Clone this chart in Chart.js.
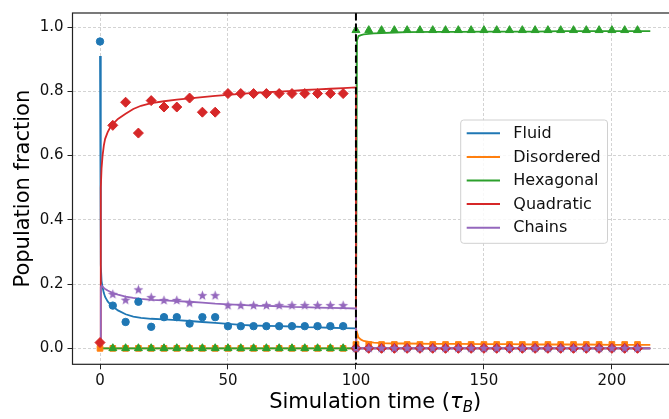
<!DOCTYPE html>
<html>
<head>
<meta charset="utf-8">
<title>Population fraction</title>
<script src="https://cdn.jsdelivr.net/npm/chart.js"></script>
<style>
  html, body { margin: 0; padding: 0; overflow: hidden; background: #fff; }
  canvas { display: block; }
</style>
</head>
<body>
<canvas id="popChart" width="690" height="419"></canvas>
<script>
    var phases = ['Fluid', 'Disordered', 'Hexagonal', 'Quadratic', 'Chains'];
    var phaseColors = ['#1f77b4', '#ff7f0e', '#2ca02c', '#d62728', '#9467bd'];

    // sampled snapshots (every 5 tau_B)
    var sampleTimes = [0, 5, 10, 15, 20, 25, 30, 35, 40, 45, 50, 55, 60, 65, 70, 75, 80, 85, 90, 95,
        100, 105, 110, 115, 120, 125, 130, 135, 140, 145, 150, 155, 160, 165, 170, 175, 180, 185, 190, 195, 200, 205, 210];
    var fluidSamples = [0.955, 0.133, 0.082, 0.145, 0.067, 0.097, 0.097, 0.077, 0.097, 0.097,
        0.069, 0.069, 0.069, 0.069, 0.069, 0.069, 0.069, 0.069, 0.069, 0.069,
        0, 0, 0, 0, 0, 0, 0, 0, 0, 0, 0, 0, 0, 0, 0, 0, 0, 0, 0, 0, 0, 0, 0];
    var disorderedSamples = [0, 0, 0, 0, 0, 0, 0, 0, 0, 0, 0, 0, 0, 0, 0, 0, 0, 0, 0, 0,
        0.012, 0.012, 0.012, 0.012, 0.012, 0.012, 0.012, 0.012, 0.012, 0.012, 0.012, 0.012,
        0.012, 0.012, 0.012, 0.012, 0.012, 0.012, 0.012, 0.012, 0.012, 0.012, 0.012];
    var hexagonalSamples = [null, 0, 0, 0, 0, 0, 0, 0, 0, 0, 0, 0, 0, 0, 0, 0, 0, 0, 0, 0,
        0.99, 0.99, 0.99, 0.99, 0.99, 0.99, 0.99, 0.99, 0.99, 0.99, 0.99, 0.99,
        0.99, 0.99, 0.99, 0.99, 0.99, 0.99, 0.99, 0.99, 0.99, 0.99, 0.99];
    var quadraticSamples = [0.018, 0.694, 0.766, 0.670, 0.771, 0.751, 0.751, 0.779, 0.735, 0.735,
        0.793, 0.793, 0.793, 0.793, 0.793, 0.793, 0.793, 0.793, 0.793, 0.793,
        0, 0, 0, 0, 0, 0, 0, 0, 0, 0, 0, 0, 0, 0, 0, 0, 0, 0, 0, 0, 0, 0, 0];
    var chainsSamples = [null, 0.168, 0.150, 0.182, 0.158, 0.149, 0.149, 0.141, 0.164, 0.164,
        0.133, 0.133, 0.133, 0.133, 0.133, 0.133, 0.133, 0.133, 0.133, 0.133,
        0, 0, 0, 0, 0, 0, 0, 0, 0, 0, 0, 0, 0, 0, 0, 0, 0, 0, 0, 0, 0, 0, 0];

    // continuous simulation output
    var curveTimes = [0, 0.3, 0.6, 1, 1.5, 2, 3, 4, 5, 7, 10, 13, 16, 20, 25, 30, 35, 40, 45, 50,
        55, 60, 65, 70, 75, 80, 85, 90, 95, 100, 100, 100.4, 101, 102, 103, 105, 107, 110, 115, 120,
        130, 140, 150, 160, 170, 180, 190, 200, 210, 215];
    var fluidCurve = [0.91, 0.26, 0.21, 0.19, 0.172, 0.16, 0.146, 0.137, 0.13, 0.118, 0.106, 0.099, 0.095, 0.092, 0.09, 0.088, 0.085, 0.082, 0.079, 0.076,
        0.073, 0.071, 0.07, 0.069, 0.068, 0.066, 0.065, 0.064, 0.063, 0.062, 0, 0, 0, 0, 0, 0, 0, 0, 0, 0,
        0, 0, 0, 0, 0, 0, 0, 0, 0, 0];
    var disorderedCurve = [0, 0, 0, 0, 0, 0, 0, 0, 0, 0, 0, 0, 0, 0, 0, 0, 0, 0, 0, 0,
        0, 0, 0, 0, 0, 0, 0, 0, 0, 0, 0, 0.05, 0.034, 0.027, 0.023, 0.02, 0.018, 0.016, 0.015, 0.015,
        0.014, 0.014, 0.013, 0.013, 0.012, 0.012, 0.012, 0.011, 0.011, 0.011];
    var hexagonalCurve = [0, 0, 0, 0, 0, 0, 0, 0, 0, 0, 0, 0, 0, 0, 0, 0, 0, 0, 0, 0,
        0, 0, 0, 0, 0, 0, 0, 0, 0, 0, 0, 0.958, 0.972, 0.975, 0.977, 0.979, 0.98, 0.981, 0.983, 0.984,
        0.985, 0.985, 0.986, 0.986, 0.986, 0.987, 0.987, 0.987, 0.987, 0.987];
    var quadraticCurve = [0.018, 0.5, 0.56, 0.6, 0.632, 0.652, 0.673, 0.688, 0.698, 0.714, 0.73, 0.745, 0.755, 0.763, 0.769, 0.774, 0.778, 0.782, 0.786, 0.789,
        0.792, 0.795, 0.797, 0.799, 0.801, 0.804, 0.806, 0.808, 0.81, 0.812, 0, 0, 0, 0, 0, 0, 0, 0, 0, 0,
        0, 0, 0, 0, 0, 0, 0, 0, 0, 0];
    var chainsCurve = [0.02, 0.19, 0.195, 0.192, 0.188, 0.185, 0.18, 0.176, 0.172, 0.167, 0.161, 0.157, 0.154, 0.151, 0.149, 0.147, 0.145, 0.142, 0.139, 0.137,
        0.135, 0.133, 0.132, 0.131, 0.129, 0.128, 0.127, 0.126, 0.125, 0.124, 0, 0, 0, 0, 0, 0, 0, 0, 0, 0,
        0, 0, 0, 0, 0, 0, 0, 0, 0, 0];

    var xTicks = [0, 50, 100, 150, 200];
    var yTicks = [0, 0.2, 0.4, 0.6, 0.8, 1.0];
    var switchTime = 100;

    var FONT = '"DejaVu Sans"';

    // filled five-point star, like matplotlib's '*'
    function makeStar(color, r) {
        var c = document.createElement('canvas');
        var size = Math.ceil(r * 2 + 2);
        c.width = size;
        c.height = size;
        var g = c.getContext('2d');
        g.fillStyle = color;
        g.beginPath();
        for (var k = 0; k < 10; k++) {
            var rr = k % 2 === 0 ? r : r * 0.42;
            var ang = -Math.PI / 2 + k * Math.PI / 5;
            g.lineTo(size / 2 + rr * Math.cos(ang), size / 2 + rr * Math.sin(ang));
        }
        g.closePath();
        g.fill();
        return c;
    }

    var markerStyles = ['circle', 'rect', 'triangle', 'rectRot', makeStar(phaseColors[4], 5.2)];
    var markerSizes = [3.7, 4, 4.6, 5, 5];

    function pairs(xs, ys) {
        return xs.map(function (x, i) { return { x: x, y: ys[i] }; });
    }

    var curves = [fluidCurve, disorderedCurve, hexagonalCurve, quadraticCurve, chainsCurve];
    var samples = [fluidSamples, disorderedSamples, hexagonalSamples, quadraticSamples, chainsSamples];

    var datasets = [];
    phases.forEach(function (name, i) {
        datasets.push({
            label: name,
            data: pairs(curveTimes, curves[i]),
            showLine: true,
            borderColor: phaseColors[i],
            backgroundColor: phaseColors[i],
            borderWidth: 1.8,
            pointRadius: 0,
            pointHoverRadius: 0,
            tension: 0
        });
    });
    phases.forEach(function (name, i) {
        datasets.push({
            label: name + ' (sampled)',
            data: pairs(sampleTimes, samples[i]),
            showLine: false,
            pointStyle: markerStyles[i],
            pointRadius: markerSizes[i],
            pointHoverRadius: markerSizes[i],
            backgroundColor: phaseColors[i],
            borderColor: phaseColors[i],
            borderWidth: i === 4 ? 0 : 1
        });
    });
    // later datasets go on top, as in matplotlib
    datasets.forEach(function (d, i) { d.order = datasets.length - i; });

    var overlay = {
        id: 'overlay',
        afterDatasetsDraw: function (chart) {
            var ctx = chart.ctx, a = chart.chartArea;
            var px = chart.scales.x.getPixelForValue(switchTime);
            ctx.save();
            ctx.strokeStyle = '#000';
            ctx.lineWidth = 2;
            ctx.setLineDash([7.4, 3.2]);
            ctx.beginPath();
            ctx.moveTo(px, a.top);
            ctx.lineTo(px, a.bottom);
            ctx.stroke();
            ctx.setLineDash([]);
            // axes frame
            ctx.strokeStyle = '#222';
            ctx.lineWidth = 1.2;
            ctx.strokeRect(a.left, a.top, a.right - a.left, a.bottom - a.top);
            ctx.restore();
        },
        afterDraw: function (chart) {
            var ctx = chart.ctx, a = chart.chartArea;
            ctx.save();

            // legend
            var lx = 460.7, ly = 120, lw = 146.8, lh = 123.3;
            ctx.beginPath();
            ctx.roundRect(lx, ly, lw, lh, 3);
            ctx.fillStyle = 'rgba(255,255,255,0.85)';
            ctx.fill();
            ctx.strokeStyle = '#d0d0d0';
            ctx.lineWidth = 1;
            ctx.stroke();
            ctx.font = '16px ' + FONT;
            ctx.textBaseline = 'middle';
            ctx.textAlign = 'left';
            phases.forEach(function (name, i) {
                var y = 133.3 + i * 23.6;
                ctx.strokeStyle = phaseColors[i];
                ctx.lineWidth = 2;
                ctx.beginPath();
                ctx.moveTo(466.7, y);
                ctx.lineTo(500, y);
                ctx.stroke();
                ctx.fillStyle = '#111';
                ctx.fillText(name, 513.3, y + 0.5);
            });

            // y axis title
            ctx.fillStyle = '#000';
            ctx.font = '21px ' + FONT;
            ctx.textAlign = 'center';
            ctx.textBaseline = 'alphabetic';
            ctx.save();
            ctx.translate(29.3, (a.top + a.bottom) / 2);
            ctx.rotate(-Math.PI / 2);
            ctx.fillText('Population fraction', 0, 0);
            ctx.restore();

            // x axis title with subscripted tau_B
            var parts = [
                { t: 'Simulation time (', f: '21px ' + FONT, dy: 0 },
                { t: '\u03c4', f: 'italic 21px ' + FONT, dy: 0 },
                { t: 'B', f: 'italic 15px ' + FONT, dy: 3.2 },
                { t: ')', f: '21px ' + FONT, dy: 0 }
            ];
            var total = 0;
            parts.forEach(function (p) { ctx.font = p.f; p.w = ctx.measureText(p.t).width; total += p.w; });
            var x = (a.left + a.right) / 2 - total / 2;
            ctx.textAlign = 'left';
            parts.forEach(function (p) {
                ctx.font = p.f;
                ctx.fillText(p.t, x, 408.3 + p.dy);
                x += p.w;
            });
            ctx.restore();
        }
    };

    var ctx = document.getElementById('popChart').getContext('2d');
    var chart = new Chart(ctx, {
        type: 'scatter',
        data: { datasets: datasets },
        options: {
            responsive: false,
            animation: false,
            layout: { padding: { left: 0, top: 3.7, right: 12.2, bottom: 0 } },
            plugins: {
                legend: { display: false },
                tooltip: { enabled: false }
            },
            scales: {
                x: {
                    type: 'linear',
                    min: -10.75,
                    max: 225.75,
                    afterBuildTicks: function (s) { s.ticks = xTicks.map(function (v) { return { value: v }; }); },
                    afterFit: function (s) { s.height = 54.7; },
                    grid: { color: 'rgba(176,176,176,0.7)', lineWidth: 0.8, tickColor: '#222', tickLength: 5, tickWidth: 1 },
                    border: { display: false, dash: [3, 2] },
                    ticks: {
                        font: { family: FONT, size: 15 },
                        color: '#111',
                        padding: 3,
                        maxRotation: 0,
                        autoSkip: false,
                        callback: function (v) { return String(v); }
                    }
                },
                y: {
                    type: 'linear',
                    min: -0.0497,
                    max: 1.0437,
                    afterBuildTicks: function (s) { s.ticks = yTicks.map(function (v) { return { value: v }; }); },
                    afterFit: function (s) { s.width = 72.5; },
                    grid: { color: 'rgba(176,176,176,0.7)', lineWidth: 0.8, tickColor: '#222', tickLength: 5, tickWidth: 1 },
                    border: { display: false, dash: [3, 2] },
                    ticks: {
                        font: { family: FONT, size: 15 },
                        color: '#111',
                        padding: 4,
                        autoSkip: false,
                        callback: function (v) { return v.toFixed(1); }
                    }
                }
            }
        },
        plugins: [overlay]
    });
</script>
</body>
</html>
